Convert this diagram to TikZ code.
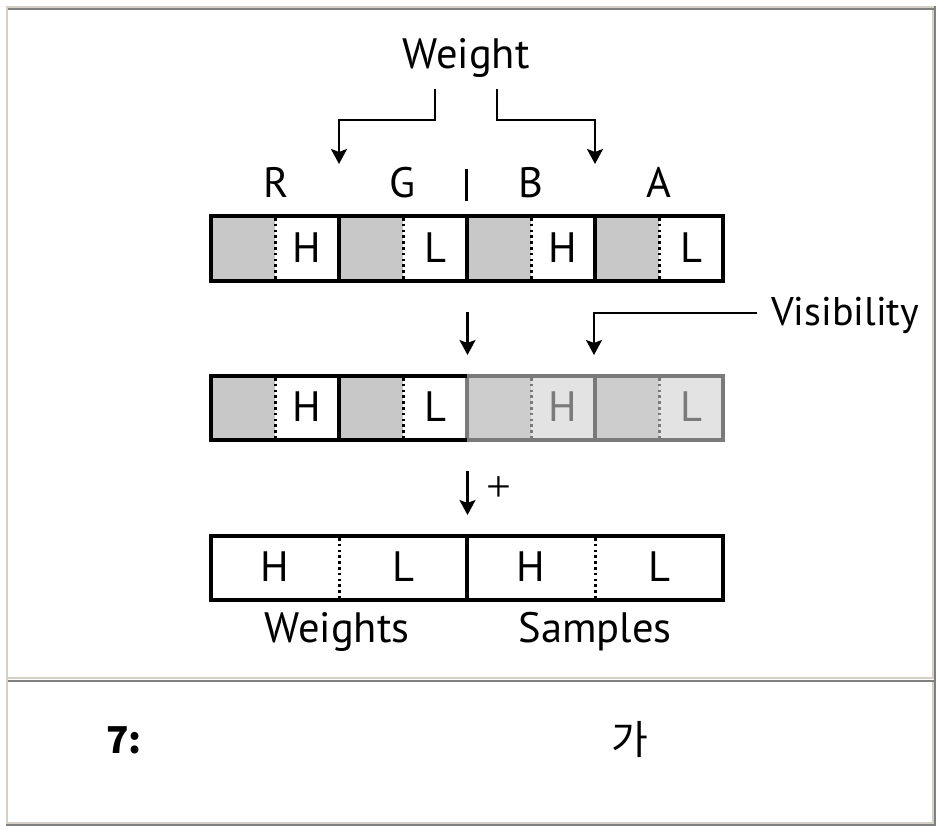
\documentclass[tikz,border=0pt]{standalone}
\usepackage{fontspec}
\setmainfont{PT Sans}
\newfontfamily\kr{Noto Sans CJK KR}
\newfontfamily\plusfont{Liberation Serif}
\usetikzlibrary{arrows.meta}
\definecolor{bargray}{HTML}{C8C8C8}
\definecolor{fadegray}{HTML}{CDCDCD}
\definecolor{fadelight}{HTML}{E3E3E3}
\definecolor{fadeline}{HTML}{7A7A7A}
\definecolor{fadetext}{HTML}{7A7A7A}
\definecolor{tlight}{HTML}{D4D0C8}
\definecolor{tdark}{HTML}{808080}
\begin{document}
\begin{tikzpicture}[x=1pt,y=-1pt,
  lbl/.style={inner sep=0pt, font=\fontsize{42.5}{50}\selectfont},
  arr/.style={line width=2.4pt, -{Stealth[length=15pt,width=16pt,inset=3pt]}},
  dotline/.style={line width=3pt, dash pattern=on 2.6pt off 3.2pt},
  barline/.style={line width=3.4pt},
  fadebar/.style={line width=3.4pt, draw=fadeline}]
\useasboundingbox (0,0) rectangle (937,826);
\fill[white] (0,0) rectangle (937,826);
% table borders
\fill[tlight] (6,6) rectangle (936,8);
\fill[tlight] (6,6) rectangle (8,826);
\fill[tdark] (934,6) rectangle (936,826);
\fill[tdark] (6,824) rectangle (936,826);
\fill[tdark] (8,8.5) rectangle (934,10.5);
\fill[tlight] (8,677) rectangle (932,679);
\fill[tlight] (932,10.5) rectangle (934,679);
\fill[tdark] (8,680) rectangle (934,682);
\fill[tlight] (8,822) rectangle (934,824);
\fill[tlight] (932,682) rectangle (934,824);

% ---------- top labels
\node[lbl, anchor=base] (weight) at (466,69) {Weight};
\node[lbl, anchor=base] (lR) at (276,198) {R};
\node[lbl, anchor=base] (lG) at (403,198) {G};
\node[lbl, anchor=base] (lB) at (531,198) {B};
\node[lbl, anchor=base] (lA) at (659,198) {A};
\coordinate (sepT) at (466.5,169);
\coordinate (sepB) at (466.5,201);
\draw[line width=3.4pt] (sepT) -- (sepB);

% weight arrows
\coordinate (wl0) at (435,89);
\coordinate (wl1) at (435,120);
\coordinate (wl2) at (339,120);
\coordinate (wl3) at (339,164);
\coordinate (wr0) at (497,89);
\coordinate (wr1) at (497,120);
\coordinate (wr2) at (595,120);
\coordinate (wr3) at (595,164);
\draw[arr] (wl0) -- (wl1) -- (wl2) -- (wl3);
\draw[arr] (wr0) -- (wr1) -- (wr2) -- (wr3);

% ---------- bar 1
\foreach \i in {0,1,2,3} {
  \fill[bargray] ({211+128*\i},216) rectangle ({275+128*\i},281);
  \draw[dotline] ({275+128*\i},218) -- ({275+128*\i},281);
}
\draw[barline] (211,216) rectangle (723,281);
\draw[barline] (339,216) -- (339,281);
\draw[barline] (467,216) -- (467,281);
\draw[barline] (595,216) -- (595,281);
\node[lbl] (a1) at (307,248) {H};
\node[lbl] (a2) at (435,248) {L};
\node[lbl] (a3) at (563,248) {H};
\node[lbl] (a4) at (691,248) {L};

% ---------- arrows to bar 2
\coordinate (m0) at (467.5,312);
\coordinate (m1) at (467.5,355);
\draw[arr] (m0) -- (m1);
\node[lbl, anchor=base west, font=\fontsize{40}{48}\selectfont] (vis) at (771,326) {Visibility};
\coordinate (v0) at (757,313);
\coordinate (v1) at (594,313);
\coordinate (v2) at (594,355);
\draw[arr] (v0) -- (v1) -- (v2);

% ---------- bar 2
\foreach \i in {0,1} {
  \fill[bargray] ({211+128*\i},376) rectangle ({275+128*\i},440);
  \draw[dotline] ({275+128*\i},378) -- ({275+128*\i},440);
}
\foreach \i in {2,3} {
  \fill[fadegray] ({211+128*\i},376) rectangle ({275+128*\i},440);
  \fill[fadelight] ({275+128*\i},376) rectangle ({339+128*\i},440);
  \draw[dotline, draw=fadeline] ({275+128*\i},378) -- ({275+128*\i},440);
}
\draw[fadebar] (467,376) rectangle (723,440);
\draw[fadebar] (595,376) -- (595,440);
\draw[barline] (467,376) -- (211,376) -- (211,440) -- (467,440);
\draw[barline] (339,376) -- (339,440);
\node[lbl] (c1) at (307,407) {H};
\node[lbl] (c2) at (435,407) {L};
\node[lbl, text=fadetext] (c3) at (563,407) {H};
\node[lbl, text=fadetext] (c4) at (691,407) {L};

% ---------- plus arrow
\coordinate (p0) at (467.5,471);
\coordinate (p1) at (467.5,515);
\draw[arr] (p0) -- (p1);
\node[inner sep=0pt, font=\plusfont\fontsize{44}{50}\selectfont] (plus) at (499,489) {+};

% ---------- bar 3
\draw[barline] (211,536) rectangle (723,600);
\draw[barline] (467,536) -- (467,600);
\draw[dotline] (339,538) -- (339,600);
\draw[dotline] (595,538) -- (595,600);
\node[lbl] (d1) at (275,567) {H};
\node[lbl] (d2) at (403,567) {L};
\node[lbl] (d3) at (531,567) {H};
\node[lbl] (d4) at (659,567) {L};
\node[lbl, anchor=base] (wts) at (337,642) {Weights};
\node[lbl, anchor=base] (smp) at (595,642) {Samples};

% ---------- caption cell
\node[inner sep=0pt, anchor=base west, font=\kr\bfseries\fontsize{37}{44}\selectfont] (fig) at (106,753) {7:};
\node[inner sep=0pt, anchor=base, font=\kr\fontsize{40}{46}\selectfont] (ga) at (630,754) {가};
\end{tikzpicture}
\end{document}
